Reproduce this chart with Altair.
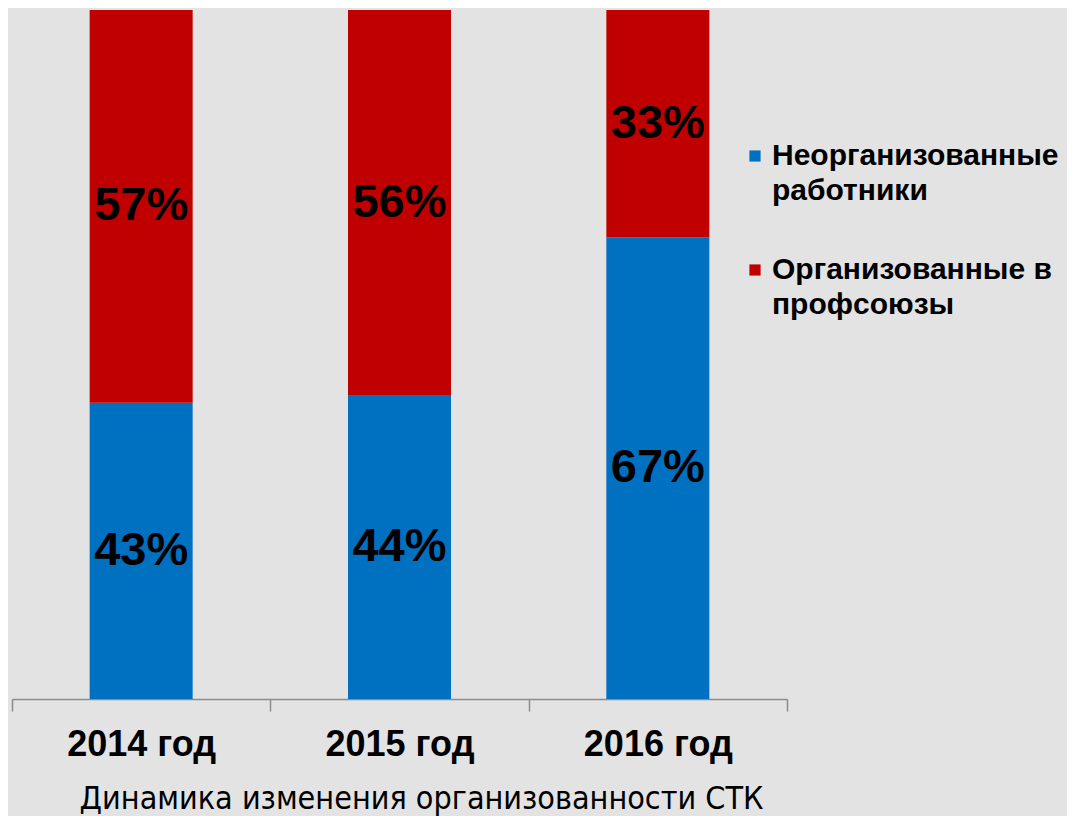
import altair as alt
import pandas as pd

years = ["2014 год", "2015 год", "2016 год"]
series = ["Неорганизованные работники", "Организованные в профсоюзы"]
unorganized = [43, 44, 67]
organized = [57, 56, 33]
colors = ["#0070c0", "#c00000"]

rows = []
for i, y in enumerate(years):
    rows.append({"year": y, "series": series[0], "value": unorganized[i], "ord": 0,
                 "label": f"{unorganized[i]}%"})
    rows.append({"year": y, "series": series[1], "value": organized[i], "ord": 1,
                 "label": f"{organized[i]}%"})
df = pd.DataFrame(rows)

x = alt.X("year:N", sort=years,
          scale=alt.Scale(paddingInner=0, paddingOuter=0),
          axis=alt.Axis(title="Динамика изменения организованности СТК",
                        labelAngle=0, labelFont="Liberation Sans", labelFontSize=36,
                        labelFontWeight="bold", labelColor="#000000", labelPadding=16,
                        tickBand="extent", tickSize=12, tickColor="#8c8c8c",
                        domainColor="#8c8c8c", tickWidth=1.5, domainWidth=1.5,
                        titleFont="DejaVu Sans Condensed", titleFontSize=32,
                        titleFontWeight="normal", titleColor="#000000",
                        titlePadding=21, titleX=409, titleAlign="center"))
y = alt.Y("value:Q", stack="zero", scale=alt.Scale(domain=[0, 100]), axis=None)

legend_expr = ("datum.label == 'Неорганизованные работники' ? "
               "['Неорганизованные', 'работники'] : ['Организованные в', 'профсоюзы']")

bars = alt.Chart(df).mark_bar(size=103).encode(
    x=x, y=y,
    color=alt.Color("series:N", sort=series,
                    scale=alt.Scale(domain=series, range=colors),
                    legend=alt.Legend(title=None, orient="none", legendX=728, legendY=131,
                                      symbolType="square", symbolSize=125,
                                      symbolStrokeWidth=0,
                                      labelFont="Liberation Sans", labelFontSize=30,
                                      labelFontWeight="bold", labelColor="#000000",
                                      labelLimit=400, rowPadding=49, labelOffset=2,
                                      labelExpr=legend_expr)),
    order=alt.Order("ord:Q"),
)

text = alt.Chart(df).mark_text(font="Liberation Sans", fontSize=47, fontWeight="bold",
                               color="#000000", baseline="middle").encode(
    x=alt.X("year:N", sort=years), y=alt.Y("value:Q", stack="zero", bandPosition=0.5),
    order=alt.Order("ord:Q"),
    text="label:N",
)

chart = alt.layer(bars, text).properties(
    width=775, height=689,
    background="#e3e3e3",
    padding={"left": 4, "top": 2, "right": 280, "bottom": 117},
    autosize=alt.AutoSizeParams(type="none"),
).configure(style={"guide-label": {"lineHeight": 35}},
            view=alt.ViewConfig(stroke=None))

chart.save("out.html", embed_options={"renderer": "svg", "actions": False})
